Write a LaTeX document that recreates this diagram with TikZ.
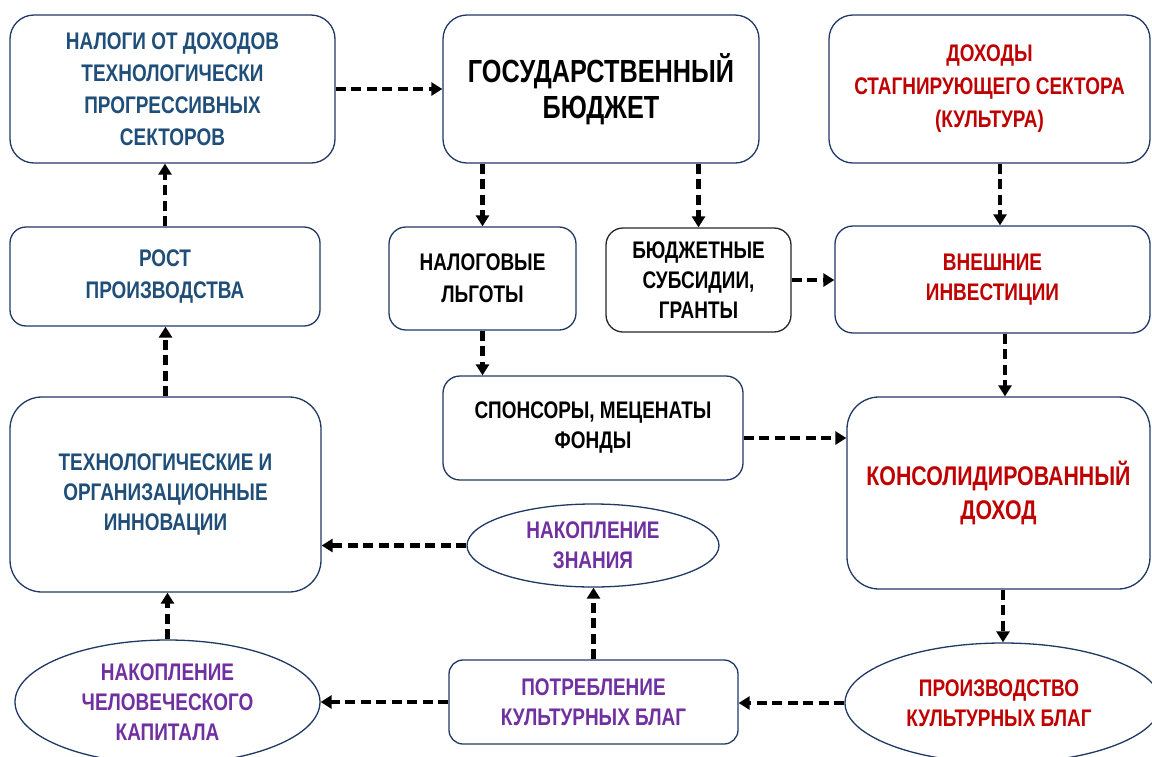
\documentclass[tikz,border=0pt]{standalone}
\usepackage{fontspec}
\setmainfont[FakeStretch=0.79]{Liberation Sans}
\usetikzlibrary{arrows.meta,shapes.geometric}
\definecolor{bord}{RGB}{31,56,100}
\definecolor{tblue}{RGB}{31,78,121}
\definecolor{tred}{RGB}{192,0,0}
\definecolor{tpurp}{RGB}{112,48,160}
\begin{document}
\begin{tikzpicture}[x=1pt,y=-1pt,
  box/.style={draw=bord, line width=1.3pt, fill=white, align=center, inner sep=0pt,
    font=\bfseries\fontsize{24}{32}\selectfont},
  ellbox/.style={ellipse, draw=bord, line width=1.3pt, fill=white, inner sep=0pt},
  etext/.style={align=center, inner sep=0pt, font=\bfseries\fontsize{24}{30}\selectfont},
  arr/.style={line width=4.2pt, dash pattern=on 10pt off 5.5pt,
    -{Triangle[length=11pt,width=13pt]}}
]
\useasboundingbox (0,0) rectangle (1152,756);
% top row
\node[box, text=tblue, minimum width=325pt, minimum height=148pt, rounded corners=24pt] (A) at (172.5,89)
  {НАЛОГИ ОТ ДОХОДОВ\\ТЕХНОЛОГИЧЕСКИ\\ПРОГРЕССИВНЫХ\\СЕКТОРОВ};
\node[box, minimum width=316pt, minimum height=148pt, rounded corners=24pt,
  font=\bfseries\fontsize{32}{36}\selectfont] (B) at (601,89)
  {ГОСУДАРСТВЕННЫЙ\\БЮДЖЕТ};
\node[box, text=tred, minimum width=321pt, minimum height=148pt, rounded corners=24pt,
  font=\bfseries\fontsize{24}{33}\selectfont] (C) at (989.5,89)
  {ДОХОДЫ\\СТАГНИРУЮЩЕГО СЕКТОРА\\(КУЛЬТУРА)};
% second row
\node[box, text=tblue, minimum width=310pt, minimum height=99pt, rounded corners=16pt] (D) at (165,276.5)
  {РОСТ\\ПРОИЗВОДСТВА};
\node[box, minimum width=187pt, minimum height=103pt, rounded corners=17pt] (E) at (482.5,278.5)
  {НАЛОГОВЫЕ\\ЛЬГОТЫ};
\node[box, draw=black!85, minimum width=185pt, minimum height=104pt, rounded corners=17pt,
  font=\bfseries\fontsize{24}{30}\selectfont] (F) at (698.5,280)
  {БЮДЖЕТНЫЕ\\СУБСИДИИ,\\ГРАНТЫ};
\node[box, text=tred, minimum width=315pt, minimum height=107pt, rounded corners=18pt,
  font=\bfseries\fontsize{24}{30}\selectfont] (G) at (992.5,279.5)
  {ВНЕШНИЕ\\ИНВЕСТИЦИИ};
% middle
\node[box, minimum width=300pt, minimum height=104pt, rounded corners=17pt,
  font=\bfseries\fontsize{24}{30}\selectfont] (H) at (593,428)
  {СПОНСОРЫ, МЕЦЕНАТЫ\\ФОНДЫ};
\node[box, text=tred, minimum width=303pt, minimum height=192pt, rounded corners=32pt,
  font=\bfseries\fontsize{27}{34}\selectfont] (I) at (998.5,493)
  {КОНСОЛИДИРОВАННЫЙ\\ДОХОД};
\node[box, text=tblue, minimum width=311pt, minimum height=195pt, rounded corners=32pt,
  font=\bfseries\fontsize{24}{30}\selectfont] (J) at (165.5,494.5)
  {ТЕХНОЛОГИЧЕСКИЕ И\\ОРГАНИЗАЦИОННЫЕ\\ИННОВАЦИИ};
\node[ellbox, minimum width=252pt, minimum height=83pt] (K) at (593,545.5) {};
\node[etext, text=tpurp] at (K.center) {НАКОПЛЕНИЕ\\ЗНАНИЯ};
% bottom row
\node[ellbox, minimum width=305pt, minimum height=124pt] (L) at (167.5,702) {};
\node[etext, text=tpurp] at (L.center) {НАКОПЛЕНИЕ\\ЧЕЛОВЕЧЕСКОГО\\КАПИТАЛА};
\node[box, text=tpurp, minimum width=289pt, minimum height=84pt, rounded corners=14pt,
  font=\bfseries\fontsize{24}{30}\selectfont] (M) at (593.5,702)
  {ПОТРЕБЛЕНИЕ\\КУЛЬТУРНЫХ БЛАГ};
\node[ellbox, minimum width=316pt, minimum height=120pt] (N) at (1003,703) {};
\node[etext, text=tred] at ([xshift=-4pt]N.center) {ПРОИЗВОДСТВО\\КУЛЬТУРНЫХ БЛАГ};
% connectors
\draw[arr] (A) -- (B);
\draw[arr] (D.north) -- (D.north |- A.south);
\draw[arr] (E.north |- B.south) -- (E.north);
\draw[arr] (F.north |- B.south) -- (F.north);
\draw[arr] ([xshift=10.5pt]C.south) -- ([xshift=10.5pt]C.south |- G.north);
\draw[arr] (F.east) -- (F.east -| G.west);
\draw[arr] (E.south) -- (E.south |- H.north);
\draw[arr] ([xshift=12.5pt]G.south) -- ([xshift=12.5pt]G.south |- I.north);
\draw[arr] ([yshift=-10pt]H.east) -- ([yshift=-10pt]H.east -| I.west);
\draw[arr] (J.north) -- (J.north |- D.south);
\draw[arr] (K.west) -- (K.west -| J.east);
\draw[arr] (L.north) -- (L.north |- J.south);
\draw[arr] (M.north) -- (M.north |- K.south);
\draw[arr] (M.west) -- (M.west -| L.east);
\draw[arr] (N.north |- I.south) -- (N.north);
\draw[arr] (N.west) -- (N.west -| M.east);
\end{tikzpicture}
\end{document}
